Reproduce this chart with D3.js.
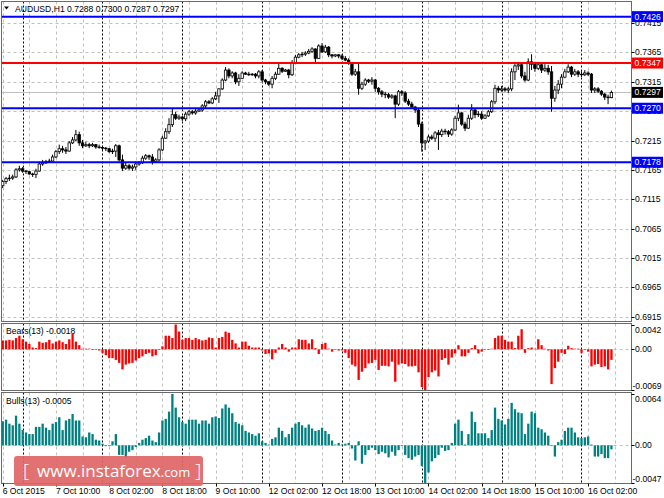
<!DOCTYPE html>
<html><head><meta charset="utf-8">
<script src="https://cdn.jsdelivr.net/npm/d3@7"></script>
<style>html,body{margin:0;padding:0;background:#fff;overflow:hidden}svg{display:block;font-family:"Liberation Sans",Arial,sans-serif}</style>
</head><body><svg id="c" width="664" height="498"></svg>
<script>
const symbolTitle = "AUDUSD,H1";
const lastOHLC = [0.7288, 0.7300, 0.7287, 0.7297];
const open = [
0.7138,0.7145,0.7150,0.7151,0.7153,0.7165,0.7167,0.7163,0.7162,0.7158,
0.7157,0.7163,0.7175,0.7177,0.7179,0.7180,0.7187,0.7196,0.7201,0.7199,
0.7197,0.7211,0.7216,0.7225,0.7211,0.7206,0.7208,0.7206,0.7208,0.7204,
0.7203,0.7202,0.7201,0.7196,0.7197,0.7206,0.7182,0.7168,0.7172,0.7168,
0.7170,0.7175,0.7177,0.7185,0.7189,0.7187,0.7179,0.7182,0.7199,0.7219,
0.7230,0.7242,0.7259,0.7253,0.7255,0.7252,0.7260,0.7264,0.7262,0.7265,
0.7267,0.7274,0.7281,0.7279,0.7286,0.7291,0.7303,0.7318,0.7335,0.7325,
0.7330,0.7315,0.7321,0.7330,0.7328,0.7327,0.7328,0.7325,0.7332,0.7318,
0.7315,0.7311,0.7321,0.7328,0.7338,0.7333,0.7335,0.7327,0.7347,0.7357,
0.7361,0.7362,0.7364,0.7367,0.7371,0.7355,0.7376,0.7366,0.7374,0.7361,
0.7359,0.7361,0.7359,0.7355,0.7352,0.7347,0.7328,0.7332,0.7304,0.7311,
0.7318,0.7316,0.7318,0.7304,0.7298,0.7294,0.7293,0.7289,0.7291,0.7277,
0.7298,0.7296,0.7282,0.7277,0.7272,0.7267,0.7243,0.7211,0.7214,0.7221,
0.7219,0.7228,0.7225,0.7231,0.7230,0.7226,0.7233,0.7253,0.7262,0.7243,
0.7236,0.7253,0.7267,0.7259,0.7260,0.7253,0.7257,0.7264,0.7281,0.7304,
0.7301,0.7303,0.7301,0.7303,0.7332,0.7342,0.7344,0.7325,0.7318,0.7349,
0.7345,0.7338,0.7344,0.7335,0.7338,0.7332,0.7287,0.7301,0.7311,0.7323,
0.7332,0.7340,0.7328,0.7332,0.7328,0.7327,0.7330,0.7328,0.7301,0.7303,
0.7299,0.7294,0.7289,0.7288];
const high = [
0.7148,0.7153,0.7157,0.7157,0.7168,0.7172,0.7170,0.7165,0.7163,0.7160,
0.7167,0.7179,0.7182,0.7182,0.7184,0.7191,0.7199,0.7208,0.7206,0.7204,
0.7214,0.7221,0.7233,0.7230,0.7216,0.7213,0.7211,0.7211,0.7209,0.7208,
0.7206,0.7204,0.7202,0.7201,0.7209,0.7208,0.7191,0.7177,0.7175,0.7174,
0.7179,0.7180,0.7189,0.7192,0.7191,0.7192,0.7185,0.7202,0.7223,0.7236,
0.7253,0.7270,0.7264,0.7259,0.7257,0.7264,0.7267,0.7267,0.7269,0.7270,
0.7277,0.7284,0.7284,0.7289,0.7298,0.7304,0.7321,0.7340,0.7338,0.7333,
0.7332,0.7328,0.7333,0.7332,0.7332,0.7330,0.7330,0.7335,0.7335,0.7320,
0.7316,0.7325,0.7332,0.7347,0.7340,0.7337,0.7337,0.7352,0.7361,0.7364,
0.7366,0.7367,0.7371,0.7374,0.7372,0.7379,0.7381,0.7378,0.7376,0.7362,
0.7362,0.7362,0.7362,0.7359,0.7355,0.7349,0.7337,0.7347,0.7315,0.7321,
0.7320,0.7323,0.7320,0.7306,0.7301,0.7298,0.7296,0.7294,0.7293,0.7301,
0.7301,0.7299,0.7286,0.7281,0.7274,0.7269,0.7247,0.7216,0.7225,0.7225,
0.7231,0.7233,0.7235,0.7235,0.7233,0.7236,0.7257,0.7276,0.7264,0.7247,
0.7259,0.7277,0.7270,0.7265,0.7265,0.7260,0.7267,0.7284,0.7310,0.7308,
0.7308,0.7306,0.7306,0.7338,0.7349,0.7349,0.7347,0.7332,0.7355,0.7362,
0.7349,0.7349,0.7347,0.7345,0.7344,0.7342,0.7308,0.7318,0.7328,0.7337,
0.7345,0.7342,0.7337,0.7335,0.7333,0.7335,0.7333,0.7330,0.7306,0.7306,
0.7301,0.7296,0.7293,0.7300];
const low = [
0.7134,0.7141,0.7146,0.7148,0.7151,0.7162,0.7160,0.7158,0.7157,0.7153,
0.7151,0.7162,0.7172,0.7175,0.7177,0.7179,0.7185,0.7192,0.7194,0.7192,
0.7196,0.7209,0.7214,0.7206,0.7202,0.7204,0.7202,0.7204,0.7201,0.7201,
0.7199,0.7197,0.7194,0.7192,0.7187,0.7179,0.7163,0.7165,0.7165,0.7163,
0.7165,0.7172,0.7175,0.7182,0.7182,0.7174,0.7177,0.7179,0.7197,0.7218,
0.7226,0.7238,0.7250,0.7250,0.7248,0.7248,0.7257,0.7259,0.7259,0.7264,
0.7264,0.7270,0.7277,0.7277,0.7284,0.7279,0.7301,0.7316,0.7321,0.7321,
0.7311,0.7308,0.7320,0.7327,0.7325,0.7325,0.7321,0.7321,0.7315,0.7311,
0.7308,0.7304,0.7318,0.7327,0.7330,0.7332,0.7321,0.7325,0.7345,0.7355,
0.7357,0.7359,0.7362,0.7364,0.7347,0.7354,0.7364,0.7364,0.7357,0.7355,
0.7357,0.7355,0.7352,0.7350,0.7344,0.7325,0.7325,0.7293,0.7301,0.7308,
0.7313,0.7310,0.7298,0.7293,0.7289,0.7287,0.7286,0.7286,0.7253,0.7274,
0.7291,0.7279,0.7274,0.7269,0.7262,0.7238,0.7196,0.7199,0.7211,0.7216,
0.7213,0.7199,0.7221,0.7225,0.7221,0.7223,0.7231,0.7248,0.7240,0.7231,
0.7235,0.7250,0.7253,0.7255,0.7250,0.7252,0.7255,0.7262,0.7277,0.7296,
0.7298,0.7298,0.7296,0.7299,0.7318,0.7335,0.7321,0.7315,0.7316,0.7335,
0.7332,0.7335,0.7330,0.7332,0.7327,0.7264,0.7281,0.7294,0.7304,0.7321,
0.7330,0.7323,0.7325,0.7323,0.7323,0.7325,0.7325,0.7296,0.7296,0.7296,
0.7291,0.7284,0.7277,0.7287];
const close = [
0.7145,0.7150,0.7151,0.7153,0.7165,0.7167,0.7163,0.7162,0.7158,0.7157,
0.7163,0.7175,0.7177,0.7179,0.7180,0.7187,0.7196,0.7201,0.7199,0.7197,
0.7211,0.7216,0.7225,0.7211,0.7206,0.7208,0.7206,0.7208,0.7204,0.7203,
0.7202,0.7201,0.7196,0.7197,0.7206,0.7182,0.7168,0.7172,0.7168,0.7170,
0.7175,0.7177,0.7185,0.7189,0.7187,0.7179,0.7182,0.7199,0.7219,0.7230,
0.7242,0.7259,0.7253,0.7255,0.7252,0.7260,0.7264,0.7262,0.7265,0.7267,
0.7274,0.7281,0.7279,0.7286,0.7291,0.7303,0.7318,0.7335,0.7325,0.7330,
0.7315,0.7321,0.7330,0.7328,0.7327,0.7328,0.7325,0.7332,0.7318,0.7315,
0.7311,0.7321,0.7328,0.7338,0.7333,0.7335,0.7327,0.7347,0.7357,0.7361,
0.7362,0.7364,0.7367,0.7371,0.7355,0.7376,0.7366,0.7374,0.7361,0.7359,
0.7361,0.7359,0.7355,0.7352,0.7347,0.7328,0.7332,0.7304,0.7311,0.7318,
0.7316,0.7318,0.7304,0.7298,0.7294,0.7293,0.7289,0.7291,0.7277,0.7298,
0.7296,0.7282,0.7277,0.7272,0.7267,0.7243,0.7211,0.7214,0.7221,0.7219,
0.7228,0.7225,0.7231,0.7230,0.7226,0.7233,0.7253,0.7262,0.7243,0.7236,
0.7253,0.7267,0.7259,0.7260,0.7253,0.7257,0.7264,0.7281,0.7304,0.7301,
0.7303,0.7301,0.7303,0.7332,0.7342,0.7344,0.7325,0.7318,0.7349,0.7345,
0.7338,0.7344,0.7335,0.7338,0.7332,0.7287,0.7301,0.7311,0.7323,0.7332,
0.7340,0.7328,0.7332,0.7328,0.7327,0.7330,0.7328,0.7301,0.7303,0.7299,
0.7294,0.7289,0.7288,0.7297];
const bears = [
0.0015,0.0015,0.0016,0.0015,0.0019,0.0023,0.0017,0.0013,0.0009,0.0003,
0.0002,0.0013,0.0011,0.0012,0.0016,0.0010,0.0013,0.0015,0.0012,0.0009,
0.0017,0.0026,0.0013,0.0007,0.0001,0.0001,0.0001,-0.0001,-0.0001,-0.0002,
-0.0006,-0.0010,-0.0015,-0.0015,-0.0018,-0.0023,-0.0034,-0.0026,-0.0024,-0.0023,
-0.0019,-0.0015,-0.0012,-0.0008,-0.0006,-0.0012,-0.0010,-0.0001,0.0005,0.0023,
0.0023,0.0019,0.0042,0.0030,0.0016,0.0019,0.0019,0.0016,0.0019,0.0017,
0.0015,0.0016,0.0020,0.0019,0.0003,0.0019,0.0021,0.0030,0.0028,0.0016,
0.0010,0.0003,0.0013,0.0013,0.0006,0.0003,0.0003,0.0003,-0.0002,-0.0008,
-0.0007,-0.0017,-0.0006,0.0003,0.0009,0.0003,-0.0004,0.0003,0.0003,0.0017,
0.0016,0.0016,0.0010,0.0017,0.0002,-0.0008,0.0009,0.0011,0.0001,-0.0004,
-0.0001,-0.0002,-0.0002,-0.0006,-0.0015,-0.0026,-0.0029,-0.0052,-0.0038,-0.0032,
-0.0024,-0.0023,-0.0018,-0.0035,-0.0028,-0.0028,-0.0029,-0.0021,-0.0055,-0.0026,
-0.0024,-0.0025,-0.0029,-0.0029,-0.0028,-0.0039,-0.0064,-0.0069,-0.0047,-0.0039,
-0.0036,-0.0046,-0.0018,-0.0015,-0.0026,-0.0014,-0.0007,0.0007,-0.0012,-0.0012,
-0.0006,0.0002,0.0007,-0.0007,-0.0004,-0.0001,-0.0001,0.0001,0.0019,0.0023,
0.0023,0.0016,0.0013,0.0013,0.0002,0.0023,0.0034,-0.0006,0.0002,0.0003,
0.0001,0.0017,0.0007,0.0001,-0.0002,-0.0059,-0.0032,-0.0021,-0.0006,-0.0008,
0.0006,0.0002,0.0001,0.0001,-0.0006,-0.0001,-0.0004,-0.0029,-0.0026,-0.0025,
-0.0030,-0.0029,-0.0034,-0.0018];
const bulls = [
0.0030,0.0032,0.0027,0.0025,0.0037,0.0027,0.0019,0.0016,0.0014,0.0014,
0.0023,0.0023,0.0027,0.0022,0.0019,0.0027,0.0029,0.0035,0.0019,0.0031,
0.0033,0.0039,0.0031,0.0031,0.0011,0.0010,0.0016,0.0014,0.0007,0.0006,
0.0002,-0.0001,-0.0001,0.0005,0.0014,-0.0012,-0.0012,-0.0016,-0.0008,-0.0006,
-0.0002,0.0003,0.0007,0.0009,0.0012,0.0006,0.0004,0.0016,0.0031,0.0033,
0.0042,0.0064,0.0047,0.0035,0.0029,0.0027,0.0032,0.0032,0.0032,0.0027,
0.0031,0.0031,0.0027,0.0035,0.0036,0.0034,0.0046,0.0051,0.0047,0.0040,
0.0029,0.0027,0.0025,0.0018,0.0016,0.0014,0.0012,0.0015,0.0005,0.0003,
0.0001,0.0008,0.0010,0.0022,0.0018,0.0010,0.0014,0.0022,0.0027,0.0029,
0.0025,0.0022,0.0026,0.0021,0.0018,0.0019,0.0022,0.0018,0.0014,0.0006,
0.0001,0.0003,0.0001,0.0002,0.0003,-0.0004,-0.0019,0.0005,-0.0023,-0.0012,
-0.0006,-0.0003,-0.0006,-0.0011,-0.0008,-0.0010,-0.0015,-0.0008,-0.0013,-0.0006,
-0.0001,-0.0012,-0.0016,-0.0018,-0.0014,-0.0012,-0.0026,-0.0047,-0.0034,-0.0020,
-0.0016,-0.0012,-0.0003,-0.0007,-0.0006,0.0003,0.0027,0.0032,0.0018,0.0001,
0.0014,0.0042,0.0029,0.0015,0.0015,0.0015,0.0009,0.0019,0.0047,0.0033,
0.0031,0.0026,0.0033,0.0053,0.0045,0.0041,0.0040,0.0014,0.0027,0.0042,
0.0040,0.0022,0.0020,0.0016,0.0012,-0.0001,-0.0014,0.0004,0.0007,0.0018,
0.0022,0.0022,0.0016,0.0010,0.0009,0.0010,0.0011,0.0001,-0.0014,-0.0014,
-0.0011,-0.0016,-0.0016,-0.0005];
const priceTicks = [0.7415,0.7365,0.7315,0.7265,0.7215,0.7165,0.7115,0.7065,0.7015,0.6965,0.6915];
const blueLevels = [0.7426, 0.7270, 0.7178];
const redLevels = [0.7347];
const bidPrice = 0.7297;
const bearsTicks = [0.0042, 0, -0.0069];
const bullsTicks = [0.0064, 0, -0.0047];
const timeLabels = ["6 Oct 2015","7 Oct 10:00","8 Oct 02:00","8 Oct 18:00","9 Oct 10:00","12 Oct 02:00","12 Oct 18:00","13 Oct 10:00","14 Oct 02:00","14 Oct 18:00","15 Oct 10:00","16 Oct 02:00"];
const barsPerLabel = 16;
const barsPerGrid = 8;
const firstBarTime = Date.UTC(2015, 9, 6, 18);

// bar times (hourly, weekends skipped) -> day separators at midnight
const barTimes = [];
for (let t = firstBarTime; barTimes.length < close.length; t += 3600e3) {
  const d = new Date(t).getUTCDay();
  if (d !== 0 && d !== 6) barTimes.push(new Date(t));
}
const daySeps = barTimes.map((t, i) => t.getUTCHours() === 0 ? i : -1).filter(i => i >= 0);

const svg = d3.select("#c");
const L = 1.5, R = 631.5;
const P = { main: [1.5, 321.5], bears: [323.5, 390.5], bulls: [392.5, 483.5] };
const n = close.length;
const x = d3.scaleLinear().domain([0, n - 1]).range([2.7, 611.4]);
const y = d3.scaleLinear().domain([0.69076, 0.74518]).range([321, 1.5]);
const yBe = d3.scaleLinear().domain([d3.min(bearsTicks), d3.max(bearsTicks)]).range([390, 324.5]);
const yBu = d3.scaleLinear().domain([d3.min(bullsTicks), d3.max(bullsTicks)]).range([483, 394]);

const defs = svg.append("defs");
Object.entries(P).forEach(([k, [t, b]]) => {
  defs.append("clipPath").attr("id", "clip-" + k).append("rect").attr("x", L).attr("y", t).attr("width", R - L).attr("height", b - t);
});

svg.append("rect").attr("width", 664).attr("height", 498).attr("fill", "#fff");

// vertical grid + separators in every panel
const gridIdx = d3.range(0, 200, barsPerGrid).filter(i => x(i) < R - 1);
Object.entries(P).forEach(([k, [t, b]]) => {
  const g = svg.append("g").attr("clip-path", `url(#clip-${k})`);
  g.selectAll(null).data(gridIdx).join("line")
    .attr("x1", d => Math.round(x(d)) + 0.5).attr("x2", d => Math.round(x(d)) + 0.5)
    .attr("y1", t).attr("y2", b).attr("stroke", "#c0c0c0").attr("stroke-dasharray", "3,3");
  g.selectAll(null).data(daySeps).join("line")
    .attr("x1", d => Math.round(x(d)) + 0.5).attr("x2", d => Math.round(x(d)) + 0.5)
    .attr("y1", t).attr("y2", b).attr("stroke", "#000").attr("stroke-dasharray", "2,2").attr("stroke-width", 1);
});

// main panel horizontal grid
const gm = svg.append("g").attr("clip-path", "url(#clip-main)");
gm.selectAll(null).data(priceTicks).join("line")
  .attr("x1", L).attr("x2", R).attr("y1", d => Math.round(y(d)) + 0.5).attr("y2", d => Math.round(y(d)) + 0.5)
  .attr("stroke", "#c0c0c0").attr("stroke-dasharray", "3,3");
// bid line
gm.append("line").attr("x1", L).attr("x2", R).attr("y1", Math.round(y(bidPrice)) + 0.5).attr("y2", Math.round(y(bidPrice)) + 0.5).attr("stroke", "#c0c0c0");

// candles
const bars = close.map((c, i) => ({ i, o: open[i], h: high[i], l: low[i], c }));
gm.selectAll(null).data(bars).join("line")
  .attr("x1", d => x(d.i)).attr("x2", d => x(d.i)).attr("y1", d => y(d.h)).attr("y2", d => y(d.l))
  .attr("stroke", "#000").attr("stroke-width", 1);
gm.selectAll(null).data(bars).join("rect")
  .attr("x", d => x(d.i) - 1.2).attr("width", 2.4)
  .attr("y", d => y(Math.max(d.o, d.c)))
  .attr("height", d => Math.max(0.6, Math.abs(y(d.o) - y(d.c))))
  .attr("fill", d => d.c >= d.o ? "#fff" : "#000").attr("stroke", "#000").attr("stroke-width", 0.8);

// level lines
gm.selectAll(null).data(blueLevels).join("line")
  .attr("x1", L).attr("x2", R).attr("y1", d => y(d)).attr("y2", d => y(d)).attr("stroke", "#0000ff").attr("stroke-width", 2);
gm.selectAll(null).data(redLevels).join("line")
  .attr("x1", L).attr("x2", R).attr("y1", d => y(d)).attr("y2", d => y(d)).attr("stroke", "#ff0000").attr("stroke-width", 2);

// indicator panels
function histo(key, vals, ys, color) {
  const g = svg.append("g").attr("clip-path", `url(#clip-${key})`);
  g.append("line").attr("x1", L).attr("x2", R).attr("y1", Math.round(ys(0)) + 0.5).attr("y2", Math.round(ys(0)) + 0.5)
    .attr("stroke", "#c0c0c0").attr("stroke-dasharray", "3,3");
  g.selectAll(null).data(vals.map((v, i) => ({ v, i }))).join("rect")
    .attr("x", d => x(d.i) - 1.1).attr("width", 2.3)
    .attr("y", d => Math.min(ys(0), ys(d.v))).attr("height", d => Math.abs(ys(d.v) - ys(0)))
    .attr("fill", color);
}
histo("bears", bears, yBe, "#ff0000");
histo("bulls", bulls, yBu, "#008080");

// frames
Object.values(P).forEach(([t, b]) => {
  svg.append("rect").attr("x", L).attr("y", t).attr("width", R - L).attr("height", b - t)
    .attr("fill", "none").attr("stroke", "#6a6a6a").attr("stroke-width", 1);
});

const FS = 8.6;
// right axis main
const ax = svg.append("g").attr("font-size", FS).attr("fill", "#000");
ax.selectAll(null).data(priceTicks).join("line")
  .attr("x1", R).attr("x2", R + 3).attr("y1", d => Math.round(y(d)) + 0.5).attr("y2", d => Math.round(y(d)) + 0.5).attr("stroke", "#000");
ax.selectAll(null).data(priceTicks).join("text")
  .attr("x", 635).attr("y", d => y(d)).attr("dy", "0.35em").text(d => d.toFixed(4));

function boxLabel(v, fill) {
  const yy = y(v);
  svg.append("rect").attr("x", 632).attr("y", yy - 5.5).attr("width", 31).attr("height", 11).attr("fill", fill);
  svg.append("text").attr("x", 634.5).attr("y", yy).attr("dy", "0.35em").attr("font-size", FS).attr("fill", "#fff").text(v.toFixed(4));
}
blueLevels.forEach(v => boxLabel(v, "#0000ff"));
redLevels.forEach(v => boxLabel(v, "#ff0000"));
boxLabel(bidPrice, "#000");

// sub-panel axes
function subAxis(ticks, ys, [t, b]) {
  ticks.forEach(v => {
    const yy = Math.max(t + 6, Math.min(b - 5, ys(v)));
    svg.append("line").attr("x1", R).attr("x2", R + 3).attr("y1", Math.round(ys(v)) + 0.5).attr("y2", Math.round(ys(v)) + 0.5).attr("stroke", "#000");
    svg.append("text").attr("x", v < 0 ? 632.5 : 635).attr("y", yy).attr("dy", "0.35em").attr("font-size", FS).text(v === 0 ? "0.00" : v.toFixed(4));
  });
}
subAxis(bearsTicks, yBe, P.bears);
subAxis(bullsTicks, yBu, P.bulls);

// titles
svg.append("path").attr("d", "M4,6.5 L9,6.5 L6.5,9.5 Z").attr("fill", "#000");
svg.append("text").attr("x", 15).attr("y", 8.5).attr("dy", "0.35em").attr("font-size", FS)
  .text(`${symbolTitle}  ${lastOHLC.map(v => v.toFixed(4)).join(" ")}`);
svg.append("text").attr("x", 6).attr("y", 330.5).attr("dy", "0.35em").attr("font-size", FS)
  .text(`Bears(13) ${bears[n - 1].toFixed(4)}`);
svg.append("text").attr("x", 6).attr("y", 400.5).attr("dy", "0.35em").attr("font-size", FS)
  .text(`Bulls(13) ${bulls[n - 1].toFixed(4)}`);

// time axis
const tl = timeLabels.map((s, k) => ({ s, i: k * barsPerLabel }));
svg.selectAll(null).data(tl).join("line")
  .attr("x1", d => Math.round(x(d.i)) + 0.5).attr("x2", d => Math.round(x(d.i)) + 0.5)
  .attr("y1", P.bulls[1]).attr("y2", P.bulls[1] + 3).attr("stroke", "#000");
svg.selectAll(null).data(tl).join("text")
  .attr("x", d => x(d.i)).attr("y", 491).attr("dy", "0.35em").attr("font-size", FS).text(d => d.s);

// watermark
const wm = svg.append("g");
wm.append("rect").attr("x", 14).attr("y", 456).attr("width", 189).attr("height", 30).attr("rx", 3)
  .attr("fill", "#e06666").attr("opacity", 0.92);
const wt = wm.append("text").attr("x", 23).attr("y", 477).attr("fill", "#fff")
  .attr("font-family", "'Open Sans','Liberation Sans',sans-serif");
wt.append("tspan").attr("font-size", 19).attr("font-weight", 300).text("[");
wt.append("tspan").attr("dx", 8).attr("font-size", 17).text("www.instaforex");
wt.append("tspan").attr("font-size", 13).text(".com");
wt.append("tspan").attr("dx", 5).attr("font-size", 19).attr("font-weight", 300).text("]");
</script></body></html>
